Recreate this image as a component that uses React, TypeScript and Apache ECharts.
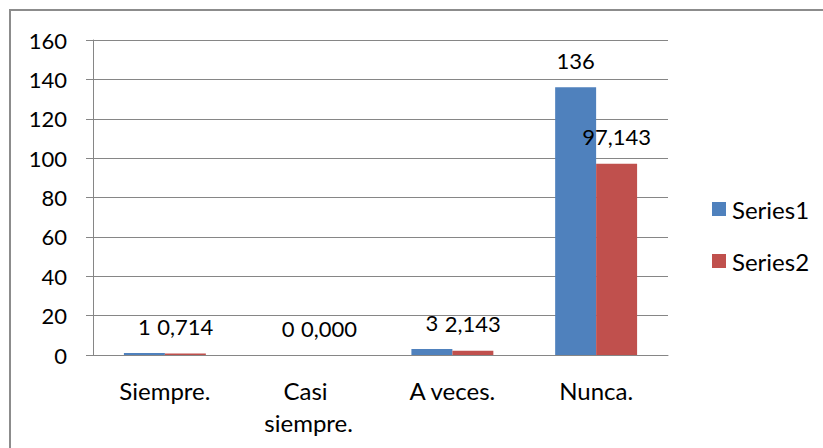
import React, { useEffect, useRef } from "react";
import * as echarts from "echarts";

const categories = ["Siempre.", "Casi siempre.", "A veces.", "Nunca."];
const series1 = [1, 0, 3, 136];
const series2 = [0.714, 0, 2.143, 97.143];
const seriesNames = ["Series1", "Series2"];
const colors = ["#4F81BD", "#C0504D"];

const FONT = "Lato";
const FS = 22;
const FS_TXT = 24;

export default function App() {
  const ref = useRef<HTMLDivElement>(null);
  useEffect(() => {
    if (!ref.current) return;
    const chart = echarts.init(ref.current, null, { renderer: "svg" });
    chart.setOption({
      animation: false,
      backgroundColor: "#ffffff",
      textStyle: { fontFamily: FONT, color: "#000" },
      graphic: [
        {
          type: "rect",
          shape: { x: 10, y: 10, width: 900, height: 600 },
          style: { fill: "none", stroke: "#8c8c8c", lineWidth: 2 },
          silent: true,
        },
      ],
      legend: {
        orient: "vertical",
        left: 712,
        top: 197,
        padding: 0,
        itemWidth: 14,
        itemHeight: 14,
        itemGap: 28,
        icon: "rect",
        data: seriesNames,
        textStyle: { fontFamily: FONT, fontSize: FS_TXT, color: "#000", lineHeight: 22, padding: [0, 0, 0, 1] },
      },
      grid: { left: 93, right: 155, top: 40, bottom: 93, containLabel: false },
      xAxis: {
        type: "category",
        data: categories,
        axisLine: { show: true, lineStyle: { color: "#868686", width: 1 } },
        axisTick: { show: false },
        axisLabel: {
          fontFamily: FONT,
          fontSize: FS_TXT,
          color: "#000",
          margin: 19,
          lineHeight: 32,
          width: 125,
          overflow: "break",
          interval: 0,
        },
      },
      yAxis: {
        type: "value",
        min: 0,
        max: 160,
        interval: 20,
        axisLine: { show: true, lineStyle: { color: "#868686", width: 1 } },
        axisTick: { show: true, length: 7, lineStyle: { color: "#868686" } },
        splitLine: { show: true, lineStyle: { color: "#868686", width: 1 } },
        axisLabel: { fontFamily: FONT, fontSize: FS, color: "#000", margin: 26 },
      },
      series: [
        {
          name: seriesNames[0],
          type: "bar",
          data: series1,
          barGap: "0%",
          barCategoryGap: "43%",
          itemStyle: { color: colors[0] },
          label: {
            show: true,
            position: "top",
            distance: 16,
            fontFamily: FONT,
            fontSize: FS,
            color: "#000",
            formatter: (p: any) => String(p.value),
          },
        },
        {
          name: seriesNames[1],
          type: "bar",
          data: series2,
          barGap: "0%",
          barCategoryGap: "43%",
          itemStyle: { color: colors[1] },
          label: {
            show: true,
            position: "top",
            distance: 16,
            fontFamily: FONT,
            fontSize: FS,
            color: "#000",
            formatter: (p: any) => Number(p.value).toFixed(3).replace(".", ","),
          },
        },
      ],
    });
    return () => chart.dispose();
  }, []);
  return (
    <div
      ref={ref}
      style={{ position: "absolute", left: 0, top: 0, width: 823, height: 448 }}
    />
  );
}
